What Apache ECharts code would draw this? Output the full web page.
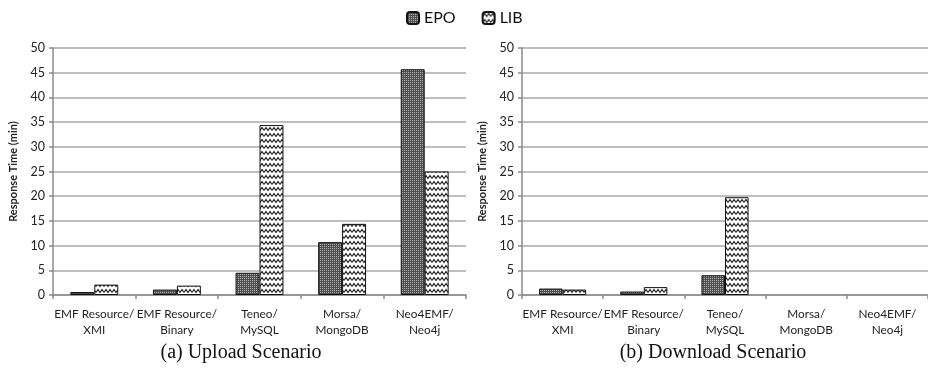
<!DOCTYPE html>
<html><head><meta charset="utf-8">
<script src="https://cdn.jsdelivr.net/npm/echarts@6/dist/echarts.min.js"></script>
<style>html,body{margin:0;padding:0;background:#fff}#c{width:928px;height:374px}</style>
</head><body><div id="c"></div>
<script>
const categories = ['EMF Resource/\nXMI','EMF Resource/\nBinary','Teneo/\nMySQL','Morsa/\nMongoDB','Neo4EMF/\nNeo4j'];
const uploadEPO = [0.6, 1.1, 4.5, 10.7, 45.7];
const uploadLIB = [2.1, 1.9, 34.4, 14.4, 25.0];
const downloadEPO = [1.3, 0.7, 4.0, null, null];
const downloadLIB = [1.1, 1.6, 19.8, null, null];
const yTicks = {min: 0, max: 50, interval: 5};
const captions = ['(a) Upload Scenario', '(b) Download Scenario'];

function epoPattern(){
  const c = document.createElement('canvas'); c.width = 2; c.height = 2;
  const g = c.getContext('2d');
  g.fillStyle = '#4e4e4e'; g.fillRect(0,0,2,2);
  g.fillStyle = '#b4b4b4'; g.fillRect(0,0,1,1);
  return {image: c, repeat: 'repeat'};
}
function libPattern(){
  const c = document.createElement('canvas'); c.width = 8; c.height = 6;
  const g = c.getContext('2d');
  g.fillStyle = '#fff'; g.fillRect(0,0,8,6);
  g.strokeStyle = '#222'; g.lineWidth = 1.2;
  g.beginPath(); g.moveTo(0,4.5); g.lineTo(2,1.5); g.lineTo(4,4.5); g.lineTo(6,1.5); g.lineTo(8,4.5); g.stroke();
  return {image: c, repeat: 'repeat'};
}
const EPOfill = epoPattern(), LIBfill = libPattern();

const font = 'Lato';
function xAx(i){ return {type:'category', gridIndex:i, data:categories,
  axisLine:{lineStyle:{color:'#8a8a8a', width:1.5}},
  axisTick:{show:true, length:4, lineStyle:{color:'#8a8a8a', width:1.5}},
  axisLabel:{interval:0, fontFamily:font, fontSize:11.8, color:'#222', lineHeight:16, margin:11}};}
function yAx(i){ return {type:'value', gridIndex:i, min:yTicks.min, max:yTicks.max, interval:yTicks.interval,
  name:'Response Time (min)', nameLocation:'middle', nameGap:34,
  nameTextStyle:{fontFamily:font, fontSize:11, fontWeight:'bold', color:'#222'},
  axisLine:{show:true, lineStyle:{color:'#8a8a8a', width:1.5}},
  axisTick:{show:true, length:4, lineStyle:{color:'#8a8a8a', width:1.5}},
  axisLabel:{fontFamily:font, fontSize:12.5, color:'#222', margin:8},
  splitLine:{lineStyle:{color:'#a8a8a8', width:1.5}}};}
function bar(name, data, i, fill){ return {name, type:'bar', xAxisIndex:i, yAxisIndex:i, data,
  barGap:'0%', barCategoryGap:'42%',
  itemStyle:{color:fill, borderColor:'#111', borderWidth:1}};}

const chart = echarts.init(document.getElementById('c'), null, {renderer:'canvas'});
chart.setOption({
  animation:false,
  legend:{top:5, left:401, itemWidth:12, itemHeight:12, itemGap:26,
    textStyle:{fontFamily:font, fontSize:16, color:'#111'},
    data:['EPO','LIB']},
  title:[
    {text:captions[0], left:236, textAlign:'center', top:338, textStyle:{fontFamily:'Liberation Serif', fontSize:20, fontWeight:'normal', color:'#111'}},
    {text:captions[1], left:708, textAlign:'center', top:338, textStyle:{fontFamily:'Liberation Serif', fontSize:20, fontWeight:'normal', color:'#111'}}
  ],
  grid:[
    {left:53, top:48, width:413, height:247},
    {left:522, top:48, width:414, height:247}
  ],
  xAxis:[xAx(0), xAx(1)],
  yAxis:[yAx(0), yAx(1)],
  series:[
    bar('EPO', uploadEPO, 0, EPOfill),
    bar('LIB', uploadLIB, 0, LIBfill),
    bar('EPO', downloadEPO, 1, EPOfill),
    bar('LIB', downloadLIB, 1, LIBfill)
  ]
});
</script></body></html>
